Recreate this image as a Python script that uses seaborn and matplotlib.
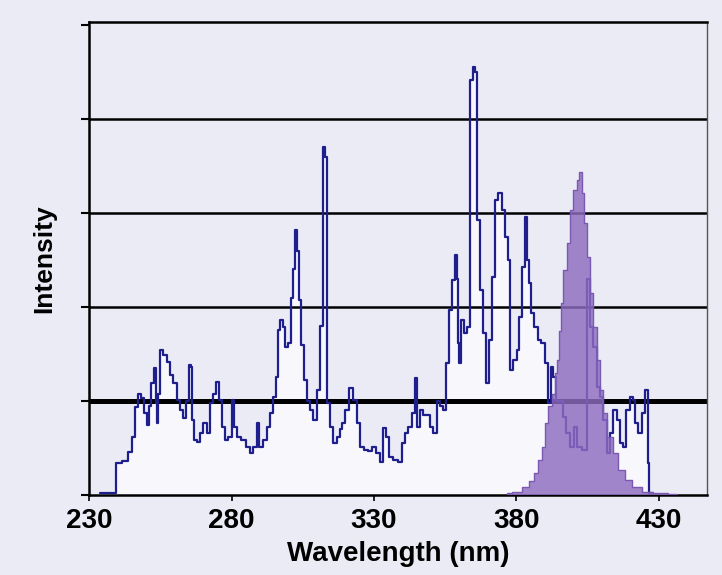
import numpy as np
import pandas as pd
import matplotlib
matplotlib.use("Agg")
import matplotlib.pyplot as plt
import seaborn as sns

# blue emission trace (wavelength nm, relative intensity)
wl = [234.0, 239.0, 239.8, 243.2, 244.4, 245.6, 246.7, 247.9, 248.8, 249.6,
      250.8, 251.5, 252.3, 253.2, 253.6, 254.0, 254.6, 255.5, 256.7, 257.8,
      259.0, 260.2, 261.3, 262.5, 263.7, 264.5, 265.4, 266.0, 266.6, 267.2,
      268.4, 269.5, 270.7, 271.9, 273.1, 274.2, 275.0, 276.0, 277.1, 278.3,
      279.5, 280.6, 281.2, 282.4, 284.1, 285.9, 287.1, 288.2, 289.4, 290.0,
      290.6, 291.8, 292.9, 294.1, 295.3, 295.9, 296.4, 297.6, 298.2, 299.3,
      300.5, 301.2, 302.0, 302.6, 303.3, 304.0, 305.0, 305.8, 307.0, 308.0,
      309.3, 310.5, 311.5, 312.5, 313.2, 313.9, 315.2, 316.3, 317.5, 318.5,
      319.2, 320.5, 322.2, 323.3, 324.5, 325.7, 327.4, 328.5, 329.8, 331.5,
      332.7, 333.9, 334.7, 335.6, 337.4, 339.1, 340.3, 341.4, 342.6, 343.8,
      344.7, 345.5, 346.7, 347.8, 349.0, 350.2, 351.4, 352.6, 353.8, 354.9,
      355.7, 356.7, 357.8, 358.8, 359.2, 359.6, 360.4, 361.0, 361.9, 363.1,
      364.3, 365.0, 365.6, 366.6, 367.8, 368.9, 369.8, 370.7, 371.9, 373.1,
      374.2, 375.4, 376.6, 377.5, 378.3, 379.5, 380.6, 381.2, 382.4, 383.3,
      383.8, 384.7, 385.7, 386.8, 388.0, 389.4, 390.6, 391.5, 392.4, 393.5,
      394.5, 395.5, 397.0, 398.0, 399.8, 400.8, 402.0, 404.0, 405.2, 406.4,
      407.5, 408.7, 409.9, 411.0, 412.2, 413.4, 414.6, 415.8, 416.9, 418.0,
      419.2, 420.4, 421.2, 422.1, 423.3, 424.5, 425.7, 426.3, 426.8, 427.5]
intensity = [0.02, 0.02, 0.34, 0.36, 0.46, 0.62, 0.94, 1.08, 1.03, 0.87,
             0.74, 0.95, 1.19, 1.35, 0.98, 0.77, 1.08, 1.54, 1.49, 1.42,
             1.28, 1.19, 1.01, 0.90, 0.82, 1.00, 1.38, 1.36, 0.80, 0.59,
             0.56, 0.66, 0.77, 0.66, 0.98, 1.08, 1.20, 1.01, 0.72, 0.59,
             0.62, 1.01, 0.72, 0.62, 0.59, 0.51, 0.45, 0.51, 0.77, 0.51,
             0.51, 0.59, 0.72, 0.87, 1.04, 1.26, 1.76, 1.86, 1.79, 1.57,
             1.62, 2.10, 2.40, 2.82, 2.60, 2.07, 1.60, 1.22, 1.00, 0.90,
             0.80, 1.12, 1.80, 3.70, 3.60, 0.98, 0.72, 0.55, 0.62, 0.70,
             0.77, 0.90, 1.14, 1.01, 0.77, 0.51, 0.48, 0.47, 0.51, 0.45,
             0.35, 0.71, 0.62, 0.41, 0.37, 0.35, 0.55, 0.66, 0.72, 0.87,
             1.24, 0.72, 0.90, 0.85, 0.85, 0.72, 0.66, 1.00, 0.95, 0.90,
             1.40, 1.97, 2.29, 2.55, 2.30, 1.62, 1.40, 1.86, 1.72, 1.79,
             4.41, 4.55, 4.50, 2.93, 2.18, 1.72, 1.19, 1.65, 2.32, 3.14,
             3.21, 3.03, 2.74, 2.50, 1.33, 1.44, 1.54, 1.89, 2.43, 2.96,
             2.50, 2.26, 1.94, 1.79, 1.65, 1.62, 1.40, 0.98, 1.36, 1.26,
             1.00, 1.00, 0.83, 0.66, 0.51, 0.72, 0.51, 0.48, 2.30, 1.79,
             1.57, 1.15, 1.04, 0.80, 0.45, 0.66, 0.90, 0.80, 0.55, 0.51,
             0.90, 1.04, 1.01, 0.77, 0.66, 0.87, 1.12, 0.34, 0.02, 0.02]

# purple band (wavelength nm, relative intensity)
wl_band = [376.6, 380.0, 383.6, 385.5, 387.1, 388.2, 389.4, 390.6, 391.8, 392.9,
           394.0, 394.7, 395.3, 395.9, 397.0, 398.2, 399.4, 400.5, 401.7, 402.3,
           403.4, 404.0, 405.2, 406.4, 407.5, 408.7, 409.9, 411.0, 412.8, 414.6,
           416.9, 419.2, 422.1, 425.7, 430.0, 436.5]
band = [0.02, 0.03, 0.09, 0.15, 0.23, 0.37, 0.51, 0.77, 0.95, 1.08,
        1.30, 1.44, 1.75, 2.04, 2.39, 2.68, 3.03, 3.24, 3.35, 3.44,
        3.21, 2.89, 2.53, 2.15, 1.79, 1.44, 1.12, 0.87, 0.62, 0.45,
        0.27, 0.16, 0.09, 0.03, 0.02, 0.01]

xticks = [230, 280, 330, 380, 430]

bg = "#EBEBF6"
sns.set_style("white", {"axes.facecolor": bg, "figure.facecolor": bg,
                        "text.color": "black", "axes.labelcolor": "black",
                        "xtick.color": "black", "ytick.color": "black"})
plt.rcParams["font.family"] = ["Liberation Sans", "DejaVu Sans"]

trace = pd.DataFrame({"Wavelength": wl, "Intensity": intensity})
peak = pd.DataFrame({"Wavelength": wl_band, "Intensity": band})

fig = plt.figure(figsize=(7.22, 5.75), dpi=100)
ax = fig.add_axes([0.1233, 0.139, 0.8557, 0.8226])

# light fill under the trace
ax.fill_between(trace["Wavelength"], trace["Intensity"], step="mid",
                color="#F7F7FC", zorder=1)

# horizontal reference lines
for lvl in [2, 3, 4]:
    ax.axhline(lvl, color="black", lw=1.8, zorder=2)
ax.axhline(1, color="black", lw=3.6, zorder=2)

sns.lineplot(data=trace, x="Wavelength", y="Intensity", ax=ax,
             drawstyle="steps-mid", color="#1E1E8C", lw=1.6, zorder=3)

ax.fill_between(peak["Wavelength"], peak["Intensity"], step="mid",
                color="#8E6CC0", alpha=0.82, lw=0, zorder=4)
sns.lineplot(data=peak, x="Wavelength", y="Intensity", ax=ax,
             drawstyle="steps-mid", color="#7B59B3", lw=1.0, zorder=5)

ax.set_xlim(230, 446.8)
ax.set_ylim(0, 5.03)
ax.set_xticks(xticks)
ax.set_yticks([0, 1, 2, 3, 4, 5])
ax.set_yticklabels([])
ax.tick_params(axis="x", length=4, width=1.2, pad=5, labelsize=20,
               direction="out", bottom=True, colors="black")
ax.tick_params(axis="y", length=6, width=1.5, direction="out", left=True,
               colors="black")
for lab in ax.get_xticklabels():
    lab.set_fontweight("bold")

for side in ["left", "top", "bottom"]:
    ax.spines[side].set_color("black")
    ax.spines[side].set_linewidth(1.8)
ax.spines["right"].set_color("#555555")
ax.spines["right"].set_linewidth(1.0)

ax.set_xlabel("Wavelength (nm)", fontsize=20, fontweight="bold", labelpad=5,
              color="black")
ax.set_ylabel("Intensity", fontsize=19, fontweight="bold", labelpad=14,
              color="black")

fig.savefig("out.png", dpi=100, facecolor=bg)
